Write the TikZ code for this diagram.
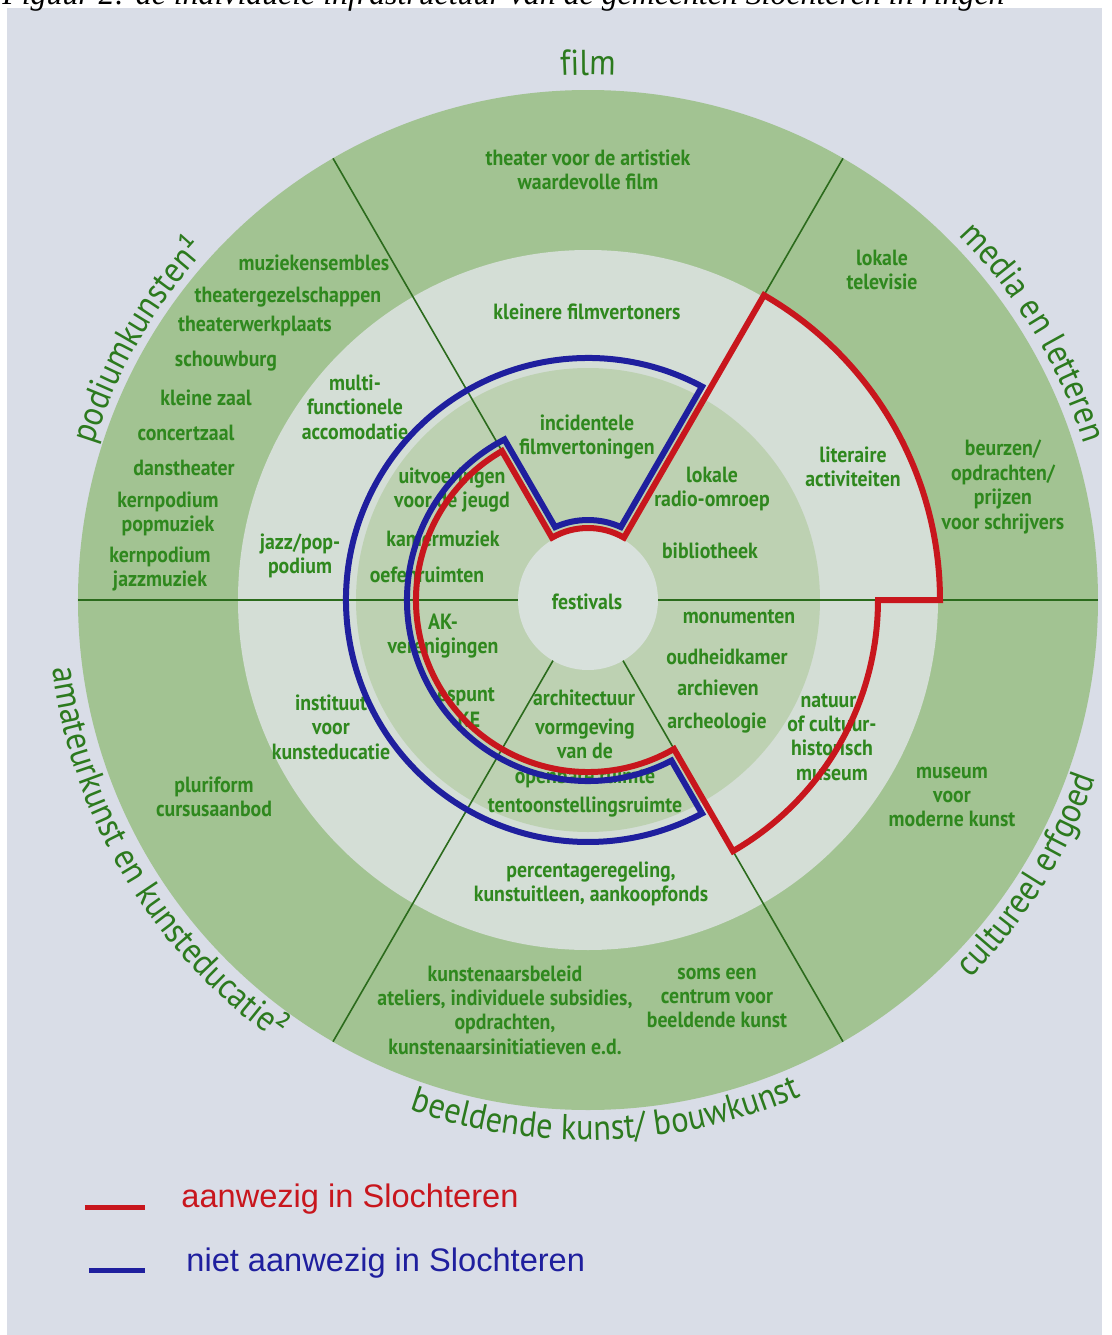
\documentclass[tikz,border=0pt]{standalone}
\usepackage{graphicx}
\usepackage{fontspec}
\setmainfont{PT Sans}
\newfontfamily\labfamily[FakeStretch=0.9]{PT Sans}
\newfontfamily\legfamily{Liberation Sans}
\newfontfamily\capfamily{Liberation Serif}
\usetikzlibrary{decorations.text}
\definecolor{pagebg}{HTML}{D9DDE7}
\definecolor{ringdark}{HTML}{A2C392}
\definecolor{ringmid}{HTML}{BDD1B2}
\definecolor{ringlight}{HTML}{D4DED6}
\definecolor{ringdisc}{HTML}{D8E1DC}
\definecolor{labgreen}{HTML}{2F881E}
\definecolor{curvgreen}{HTML}{2C7A1E}
\definecolor{secgreen}{HTML}{2B6B1C}
\definecolor{legred}{HTML}{C8161D}
\definecolor{legblue}{HTML}{1F1F9E}
\newcommand\curvfont{\labfamily\fontsize{18}{20}\selectfont}
\tikzset{
  lab/.style={font=\labfamily\bfseries\fontsize{11}{12.2}\selectfont, text=labgreen, align=center, inner sep=0pt},
  secline/.style={draw=secgreen, line width=0.8pt},
  redpath/.style={draw=legred, line width=3pt, line join=miter},
  bluepath/.style={draw=legblue, line width=3pt, line join=miter},
  curvlab/.style={decorate, decoration={text along path, text align=center, text color=curvgreen, text={|\curvfont|#1}}},
  legtext/.style={font=\legfamily\fontsize{16.3}{18}\selectfont, inner sep=0pt, anchor=base west}
}
\begin{document}
\begin{tikzpicture}[x=0.5pt,y=0.5pt]
\useasboundingbox (-588,-735) rectangle (524,600);
\clip (-588,-735) rectangle (524,600);
% page
\fill[white] (-588,-735) rectangle (524,600);
\fill[pagebg] (-581,-735) rectangle (514,592);
% caption (cut off at top)
\node[anchor=base west, inner sep=0pt] (cap) at (-586,596) {\resizebox{501pt}{!}{\capfamily\itshape Figuur 2: de individuele infrastructuur van de gemeenten Slochteren in ringen}};
% rings
\fill[ringdark] (0,0) circle[radius=510];
\fill[ringlight] (0,0) circle[radius=350];
\fill[ringmid] (0,0) circle[radius=232];
\fill[ringdisc] (0,0) circle[radius=70];
% sector lines
\foreach \a in {0,60,120,180,240,300} \draw[secline] (\a:70) -- (\a:510);
% curved category labels
\path[curvlab={film}] (110:525) arc[start angle=110, end angle=70, radius=525];
\path[curvlab={podiumkunsten¹}] (178:518) arc[start angle=178, end angle=122, radius=518];
\path[curvlab={media en letteren}] (58:520) arc[start angle=58, end angle=4, radius=520];
\path[curvlab={cultureel erfgoed}] (-59:538) arc[start angle=-59, end angle=-5, radius=538];
\path[curvlab={beeldende kunst/ bouwkunst}] (-122:540) arc[start angle=-122, end angle=-54, radius=540];
\path[curvlab={amateurkunst en kunsteducatie²}] (178:540) arc[start angle=178, end angle=244, radius=540];
% film
\node[lab] (f1) at (0,430) {theater voor de artistiek\\waardevolle film};
\node[lab] (f2) at (-1,288) {kleinere filmvertoners};
\node[lab] (f3) at (-1,163) {incidentele\\filmvertoningen};
% podiumkunsten
\node[lab] (p1) at (-274,337) {muziekensembles};
\node[lab] (p2) at (-300,303) {theatergezelschappen};
\node[lab] (p3) at (-333,274) {theaterwerkplaats};
\node[lab] (p4) at (-362,239) {schouwburg};
\node[lab] (p5) at (-382,202) {kleine zaal};
\node[lab] (p6) at (-402,167) {concertzaal};
\node[lab] (p7) at (-404,132) {danstheater};
\node[lab] (p8) at (-420,86) {kernpodium\\popmuziek};
\node[lab] (p9) at (-428,31) {kernpodium\\jazzmuziek};
\node[lab] (p10) at (-233,193) {multi-\\functionele\\accomodatie};
\node[lab] (p11) at (-288,44) {jazz/pop-\\podium};
\node[lab] (p12) at (-136,110) {uitvoeringen\\voor de jeugd};
\node[lab] (p13) at (-145,61) {kamermuziek};
\node[lab] (p14) at (-161,25) {oefenruimten};
% centre
\node[lab] (c1) at (-1,-2) {festivals};
% media en letteren
\node[lab] (m1) at (294,330) {lokale\\televisie};
\node[lab] (m2) at (415,113) {beurzen/\\opdrachten/\\prijzen\\voor schrijvers};
\node[lab] (m3) at (265,133) {literaire\\activiteiten};
\node[lab] (m4) at (124,111) {lokale\\radio-omroep};
\node[lab] (m5) at (122,49) {bibliotheek};
% cultureel erfgoed
\node[lab] (e1) at (151,-17) {monumenten};
\node[lab] (e2) at (139,-57) {oudheidkamer};
\node[lab] (e3) at (130,-88) {archieven};
\node[lab] (e4) at (129,-123) {archeologie};
\node[lab] (e5) at (244,-137) {natuur-\\of cultuur-\\historisch\\museum};
\node[lab] (e6) at (364,-197) {museum\\voor\\moderne kunst};
% beeldende kunst
\node[lab] (b1) at (-4,-98) {architectuur};
\node[lab] (b2) at (-3,-153) {vormgeving\\van de\\openbare ruimte};
\node[lab] (b3) at (-3,-207) {tentoonstellingsruimte};
\node[lab] (b4) at (3,-284) {percentageregeling,\\kunstuitleen, aankoopfonds};
\node[lab] (b5) at (-83,-410) {kunstenaarsbeleid\\ateliers, individuele subsidies,\\opdrachten,\\kunstenaarsinitiatieven e.d.};
\node[lab] (b6) at (129,-398) {soms een\\centrum voor\\beeldende kunst};
% amateurkunst
\node[lab] (a1) at (-145,-36) {AK-\\verenigingen};
\node[lab] (a2) at (-122,-97) {espunt};
\node[lab] (a3) at (-119,-120) {KE};
\node[lab] (a4) at (-257,-127) {instituut\\voor\\kunsteducatie};
\node[lab] (a5) at (-374,-197) {pluriform\\cursusaanbod};
% blue outline (niet aanwezig)
\draw[bluepath] (61.89:242) arc[start angle=61.89, end angle=298.11, radius=242]
  -- (297.47:181) arc[start angle=297.47, end angle=117.47, radius=181]
  -- (114.26:80) arc[start angle=114.26, end angle=65.74, radius=80] -- cycle;
% red outline (aanwezig)
\draw[redpath] (120:72) arc[start angle=120, end angle=60, radius=72]
  -- (60:352) arc[start angle=60, end angle=0, radius=352]
  -- (0:290) arc[start angle=0, end angle=-60, radius=290]
  -- (-60:172) arc[start angle=-60, end angle=-240, radius=172] -- cycle;
% legend
\coordinate (lr1) at (-503,-607);
\coordinate (lr2) at (-443,-607);
\coordinate (lb1) at (-499,-670);
\coordinate (lb2) at (-443,-670);
\draw[legred, line width=2.5pt] (lr1) -- (lr2);
\draw[legblue, line width=2.5pt] (lb1) -- (lb2);
\node[legtext, text=legred] (lt1) at (-407,-607) {aanwezig in Slochteren};
\node[legtext, text=legblue] (lt2) at (-402,-671) {niet aanwezig in Slochteren};
\end{tikzpicture}
\end{document}
